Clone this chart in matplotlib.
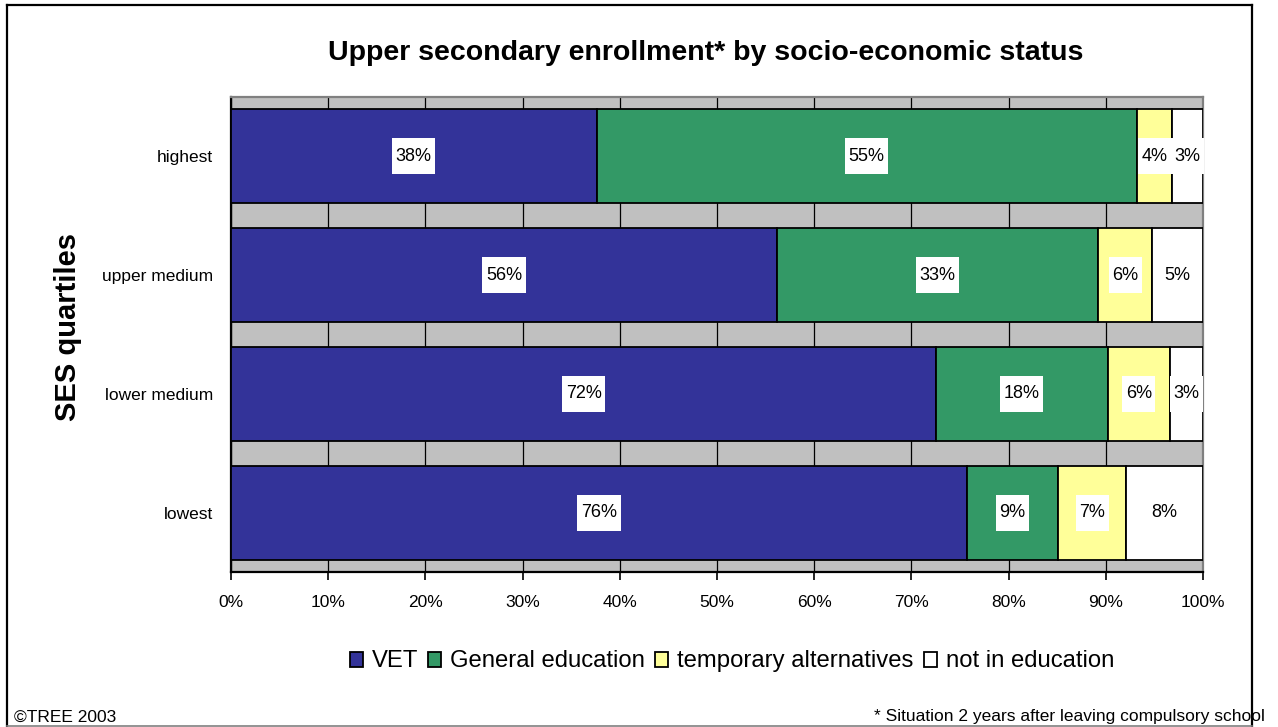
import matplotlib
matplotlib.use("Agg")
import matplotlib.pyplot as plt
from matplotlib.path import Path
from matplotlib.lines import Line2D
from matplotlib.patches import Rectangle
import numpy as np

plt.rcParams['font.family'] = ['Liberation Sans', 'DejaVu Sans']

# ---- data (bottom to top) ----
categories = ["lowest", "lower medium", "upper medium", "highest"]
series_names = ["VET", "General education", "temporary alternatives", "not in education"]
vet = [75.7, 72.4, 56.2, 37.5]
general = [9.4, 17.6, 33.0, 55.4]
temporary = [7.0, 6.4, 5.6, 3.6]
not_in_edu = [7.9, 3.4, 5.2, 3.2]
x_ticks = [0, 10, 20, 30, 40, 50, 60, 70, 80, 90, 100]
x_tick_labels = [f"{t}%" for t in x_ticks]

colors = ["#333399", "#339966", "#FFFF99", "#FFFFFF"]

W, H = 1278, 727
fig = plt.figure(figsize=(W / 100, H / 100), dpi=100)
ax = fig.add_axes([231 / W, 1 - 572 / H, (1203 - 231) / W, (572 - 97) / H])
ax.set_facecolor("#C0C0C0")

raw = np.array([vet, general, temporary, not_in_edu], dtype=float)
totals = raw.sum(axis=0)
shares = raw / totals * 100

y = np.arange(len(categories))
left = np.zeros(len(categories))


class LabelBox:
    def __call__(self, x0, y0, width, height, mutation_size):
        px = 0.2 * mutation_size
        py = 0.52 * mutation_size
        xa, xb = x0 - px, x0 + width + px
        ya, yb = y0 - py, y0 + height + py
        return Path([(xa, ya), (xb, ya), (xb, yb), (xa, yb), (xa, ya)], closed=True)


for i, name in enumerate(series_names):
    ax.barh(y, shares[i], left=left, height=0.79, color=colors[i],
            edgecolor="black", linewidth=1.3, label=name, zorder=3)
    for j in range(len(categories)):
        cx = left[j] + shares[i][j] / 2
        ax.text(cx, y[j], f"{raw[i][j]:.0f}%", ha="center", va="center",
                fontsize=13, color="black", zorder=6, clip_on=False,
                bbox=dict(boxstyle=LabelBox(), facecolor="white", edgecolor="none"))
    left = left + shares[i]

ax.set_xlim(0, 100)
ax.set_ylim(-0.5, len(categories) - 0.5)
ax.set_xticks(x_ticks)
ax.set_xticklabels(x_tick_labels, fontsize=12.5)
ax.set_yticks(y)
ax.set_yticklabels(categories, fontsize=12.5)
ax.tick_params(axis="x", direction="out", length=6, width=1.2, pad=10.5, colors="black")
ax.tick_params(axis="y", length=0, pad=13)
ax.xaxis.grid(True, color="black", linewidth=0.9, zorder=1)
ax.set_axisbelow(True)

ax.spines["left"].set_color("black")
ax.spines["left"].set_linewidth(1.6)
ax.spines["bottom"].set_color("black")
ax.spines["bottom"].set_linewidth(1.6)
ax.spines["top"].set_color("#808080")
ax.spines["top"].set_linewidth(1.6)
ax.spines["right"].set_color("#808080")
ax.spines["right"].set_linewidth(1.6)

# titles and labels
fig.text(705.5 / W, 1 - 59.5 / H, "Upper secondary enrollment* by socio-economic status",
         ha="center", va="baseline", fontsize=20.5, fontweight="bold")
fig.text(68 / W, 1 - 327 / H, "SES quartiles", rotation=90, ha="center", va="center",
         fontsize=21, fontweight="bold")

# legend (single row, baseline aligned)
renderer = fig.canvas.get_renderer()
lx = 350.0
base_y = 667.0
for name, col in zip(series_names, colors):
    fig.add_artist(Rectangle((lx / W, 1 - 667 / H), 13 / W, 15 / H, transform=fig.transFigure,
                             facecolor=col, edgecolor="black", linewidth=1.3))
    t = fig.text((lx + 22) / W, 1 - base_y / H, name, ha="left", va="baseline", fontsize=17.2)
    tw = t.get_window_extent(renderer=renderer).width
    lx = lx + 22 + tw + 10

# footnotes
fig.text(14 / W, 1 - 722 / H, "\u00a9TREE 2003", ha="left", va="baseline", fontsize=12.5)
fig.text(874 / W, 1 - 721 / H, "* Situation 2 years after leaving compulsory school",
         ha="left", va="baseline", fontsize=12.5)

# outer frame
def fl(x0, y0, x1, y1, color="black", lw=1.6):
    fig.add_artist(Line2D([x0 / W, x1 / W], [1 - y0 / H, 1 - y1 / H],
                          color=color, linewidth=lw, transform=fig.transFigure, zorder=10))

fl(7, 5, 1252, 5)
fl(7, 5, 7, 726)
fl(1252, 5, 1252, 726)
fl(7, 726, 1252, 726, color="#808080", lw=1.2)

fig.savefig("out.png", dpi=100)
